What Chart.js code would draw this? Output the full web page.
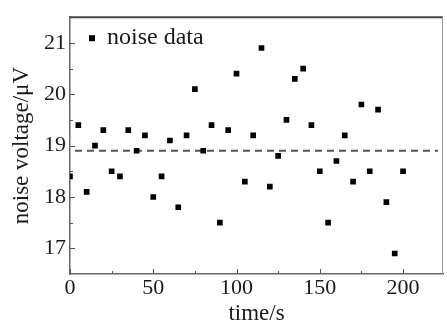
<!DOCTYPE html>
<html><head><meta charset="utf-8">
<script src="https://cdn.jsdelivr.net/npm/chart.js@4.4.1/dist/chart.umd.min.js"></script>
<style>html,body{margin:0;padding:0;background:#fff;overflow:hidden;}</style>
</head><body>
<canvas id="c" width="447" height="322"></canvas>
<script>
// ---- data ----
const timeS = [0,5,10,15,20,25,30,35,40,45,50,55,60,65,70,75,80,85,90,95,100,105,110,115,120,125,130,135,140,145,150,155,160,165,170,175,180,185,190,195,200];
const noiseVoltage = [18.4,19.4,18.1,19.0,19.3,18.5,18.4,19.3,18.9,19.2,18.0,18.4,19.1,17.8,19.2,20.1,18.9,19.4,17.5,19.3,20.4,18.3,19.2,20.9,18.2,18.8,19.5,20.3,20.5,19.4,18.5,17.5,18.7,19.2,18.3,19.8,18.5,19.7,17.9,16.9,18.5];
const meanVoltage = 18.9;
const meanLineTime = [3, 221];
const xTicks = [0,50,100,150,200];
const xMinorTicks = [25,75,125,175];
const yTicks = [17,18,19,20,21];
const yMinorTicks = [17.5,18.5,19.5,20.5];
const xRange = [0,224];
const yRange = [16.5,21.5];
const seriesLabel = 'noise data';
const xTitle = 'time/s';
const yTitle = 'noise voltage/\u03bcV';

const FONT = '"Liberation Serif", "DejaVu Serif", serif';
const TXT = '#1a1a1a';

const framePlugin = {
  id: 'frame',
  afterDraw(chart) {
    const ctx = chart.ctx, ca = chart.chartArea;
    const sx = chart.scales.x, sy = chart.scales.y;
    ctx.save();
    // top & right frame
    ctx.strokeStyle = '#444'; ctx.lineWidth = 2;
    ctx.beginPath(); ctx.moveTo(ca.left, ca.top); ctx.lineTo(ca.right, ca.top); ctx.stroke();
    ctx.strokeStyle = '#9a9a9a'; ctx.lineWidth = 1;
    ctx.beginPath(); ctx.moveTo(ca.right - 0.5, ca.top); ctx.lineTo(ca.right - 0.5, ca.bottom); ctx.stroke();
    // inward ticks
    ctx.strokeStyle = '#555'; ctx.lineWidth = 1;
    const vt = (vals, len) => vals.forEach(v => {
      const p = Math.round(sx.getPixelForValue(v)) + 0.5;
      ctx.beginPath(); ctx.moveTo(p, ca.bottom); ctx.lineTo(p, ca.bottom - len); ctx.stroke();
    });
    const ht = (vals, len) => vals.forEach(v => {
      const p = Math.round(sy.getPixelForValue(v)) + 0.5;
      ctx.beginPath(); ctx.moveTo(ca.left, p); ctx.lineTo(ca.left + len, p); ctx.stroke();
    });
    vt(xTicks, 5); vt(xMinorTicks, 3);
    ht(yTicks, 5); ht(yMinorTicks, 3);
    // legend
    const mx = ca.left + 22, my = ca.top + 21;
    ctx.fillStyle = '#000';
    Chart.helpers.drawPoint(ctx, {pointStyle: 'rect', radius: 4.24, borderWidth: 0}, mx, my);
    ctx.fillStyle = TXT;
    ctx.font = '24px ' + FONT;
    ctx.textBaseline = 'middle'; ctx.textAlign = 'left';
    ctx.fillText(seriesLabel, ca.left + 37, my);
    ctx.restore();
  }
};

new Chart(document.getElementById('c'), {
  type: 'scatter',
  data: {
    datasets: [
      {
        label: seriesLabel,
        data: timeS.map((t, i) => ({x: t, y: noiseVoltage[i]})),
        pointStyle: 'rect',
        pointRadius: 4,
        backgroundColor: '#000',
        borderWidth: 0,
        order: 1
      },
      {
        type: 'line',
        label: 'mean',
        data: meanLineTime.map(t => ({x: t, y: meanVoltage})),
        borderColor: '#555',
        borderWidth: 2,
        borderDash: [7, 5],
        pointRadius: 0,
        fill: false,
        order: 2
      }
    ]
  },
  options: {
    responsive: false,
    animation: false,
    devicePixelRatio: 1,
    layout: {padding: {top: 13, right: 1, left: 0, bottom: 0}},
    plugins: {legend: {display: false}, tooltip: {enabled: false}},
    scales: {
      x: {
        type: 'linear', min: xRange[0], max: xRange[1],
        afterFit: s => { s.height = 48; },
        afterBuildTicks: s => { s.ticks = xTicks.map(v => ({value: v})); },
        grid: {display: false, drawTicks: false},
        border: {display: true, color: '#666', width: 1.5},
        ticks: {padding: 1, font: {family: FONT, size: 22}, color: TXT, maxRotation: 0, autoSkip: false},
        title: {display: true, text: xTitle, font: {family: FONT, size: 23}, color: TXT, padding: {top: 0, bottom: -6}}
      },
      y: {
        type: 'linear', min: yRange[0], max: yRange[1],
        afterFit: s => { s.width = 70; },
        afterBuildTicks: s => { s.ticks = yTicks.map(v => ({value: v})); },
        grid: {display: false, drawTicks: false},
        border: {display: true, color: '#666', width: 1.5},
        ticks: {padding: 4, font: {family: FONT, size: 22}, color: TXT, autoSkip: false},
        title: {display: true, text: yTitle, font: {family: FONT, size: 23}, color: TXT, padding: {top: 8, bottom: 0}}
      }
    }
  },
  plugins: [framePlugin]
});
</script>
</body></html>
